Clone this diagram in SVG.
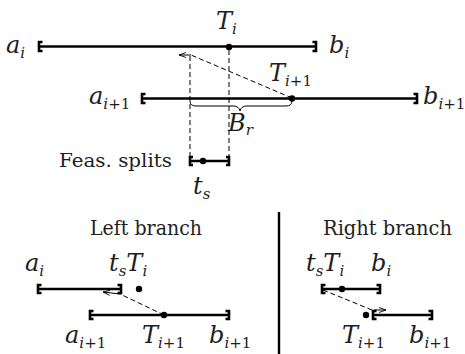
<svg xmlns="http://www.w3.org/2000/svg" width="465" height="354" viewBox="0 0 465 354">
<style>
.bar{stroke:#000;stroke-width:2.6;fill:none}
.br{stroke:#000;stroke-width:2.6;fill:none;stroke-linecap:butt}
.dash{stroke:#000;stroke-width:1;fill:none;stroke-dasharray:5 3}
.thin{stroke:#000;stroke-width:1;fill:none}
.dot{fill:#000}
text{font-family:'DejaVu Serif',serif;fill:#1e1e1e}
.m{font-style:italic;font-size:24px}
.s{font-size:15px}
.u{font-style:normal}
.t{font-size:18px}
.h{font-size:20px}
</style>
<defs>
<marker id="ah" markerWidth="8" markerHeight="6" refX="7" refY="3" orient="auto" markerUnits="userSpaceOnUse">
<path d="M0,0.5 L7,3 L0,5.5" fill="none" stroke="#000" stroke-width="0.9"/>
</marker>
</defs>

<g id="interval-i">
<path class="bar" d="M39,46.5 H316"/>
<path class="br" d="M42.5,42 H39 V51 H42.5"/>
<path class="br" d="M312.5,42 H316 V51 H312.5"/>
<circle class="dot" cx="229" cy="47" r="3.2"/>
<text class="m" x="6" y="53">a<tspan class="s" dy="5">i</tspan></text>
<text class="m" x="329" y="53">b<tspan class="s" dy="5">i</tspan></text>
<text class="m" x="216" y="29">T<tspan class="s" dy="5">i</tspan></text>
</g>

<g id="interval-i1">
<path class="bar" d="M142,98.5 H417"/>
<path class="br" d="M145.5,94 H142 V103 H145.5"/>
<path class="br" d="M413.5,94 H417 V103 H413.5"/>
<circle class="dot" cx="292" cy="98.5" r="3.2"/>
<text class="m" x="89" y="104">a<tspan class="s" dy="5">i<tspan class="u">+1</tspan></tspan></text>
<text class="m" x="423" y="104">b<tspan class="s" dy="5">i<tspan class="u">+1</tspan></tspan></text>
<text class="m" x="269" y="81">T<tspan class="s" dy="5">i<tspan class="u">+1</tspan></tspan></text>
</g>

<g id="feasible-splits">
<path class="bar" d="M190,161 H229"/>
<path class="br" d="M193,157 H190 V165 H193"/>
<path class="br" d="M226,157 H229 V165 H226"/>
<circle class="dot" cx="203" cy="161" r="3.2"/>
<text class="t" x="59" y="167" textLength="113" lengthAdjust="spacingAndGlyphs">Feas. splits</text>
<text class="m" x="193" y="194">t<tspan class="s" dy="5">s</tspan></text>
</g>

<g id="brace-label">
<text class="m" x="228" y="131">B<tspan class="s" dy="4">r</tspan></text>
</g>

<g id="left-title"><text class="h" x="90" y="235" textLength="112" lengthAdjust="spacingAndGlyphs">Left branch</text></g>
<g id="right-title"><text class="h" x="323" y="235" textLength="129" lengthAdjust="spacingAndGlyphs">Right branch</text></g>
<g id="separator"><path d="M279,212 V354" stroke="#000" stroke-width="2.4"/></g>

<g id="left-branch">
<path class="bar" d="M38,289 H121"/>
<path class="br" d="M41.5,285 H38 V293 H41.5"/>
<path class="br" d="M117.5,285 H121 V293 H117.5"/>
<circle class="dot" cx="139" cy="289" r="3.2"/>
<path class="bar" d="M90,315 H229"/>
<path class="br" d="M93.5,311 H90 V319 H93.5"/>
<path class="br" d="M225.5,311 H229 V319 H225.5"/>
<circle class="dot" cx="164" cy="315" r="3.2"/>
<text class="m" x="25" y="271">a<tspan class="s" dy="5">i</tspan></text>
<text class="m" x="109" y="271">t<tspan class="s" dy="5">s</tspan><tspan dy="-5">T</tspan><tspan class="s" dy="5">i</tspan></text>
<text class="m" x="65" y="343">a<tspan class="s" dy="5">i<tspan class="u">+1</tspan></tspan></text>
<text class="m" x="142" y="343">T<tspan class="s" dy="5">i<tspan class="u">+1</tspan></tspan></text>
<text class="m" x="209" y="343">b<tspan class="s" dy="5">i<tspan class="u">+1</tspan></tspan></text>
</g>

<g id="right-branch">
<path class="bar" d="M322,289 H380"/>
<path class="br" d="M325.5,285 H322 V293 H325.5"/>
<path class="br" d="M376.5,285 H380 V293 H376.5"/>
<circle class="dot" cx="342" cy="289" r="3.2"/>
<path class="bar" d="M373,315 H432"/>
<path class="br" d="M376.5,311 H373 V319 H376.5"/>
<path class="br" d="M428.5,311 H432 V319 H428.5"/>
<circle class="dot" cx="366" cy="315" r="3.2"/>
<text class="m" x="306" y="271">t<tspan class="s" dy="5">s</tspan><tspan dy="-5">T</tspan><tspan class="s" dy="5">i</tspan></text>
<text class="m" x="371" y="271">b<tspan class="s" dy="5">i</tspan></text>
<text class="m" x="342" y="343">T<tspan class="s" dy="5">i<tspan class="u">+1</tspan></tspan></text>
<text class="m" x="409" y="343">b<tspan class="s" dy="5">i<tspan class="u">+1</tspan></tspan></text>
</g>

<g id="connectors">
<path class="dash" d="M229,50 V157"/>
<path class="dash" d="M190,56 V157"/>
<path class="dash" d="M292,98 L191,55"/>
<path class="thin" d="M191,55 H179" marker-end="url(#ah)"/>
<path class="thin" d="M190,101 Q190,106 196,106 H233 Q239,106 240,111 Q241,106 247,106 H286 Q292,106 292,101"/>
<path class="dash" d="M164,315 L120,294"/>
<path class="thin" d="M120,294 L103,292" marker-end="url(#ah)"/>
<path class="dash" d="M323,290 L372,310"/>
<path class="thin" d="M374,310 H386" marker-end="url(#ah)"/>
</g>
</svg>
